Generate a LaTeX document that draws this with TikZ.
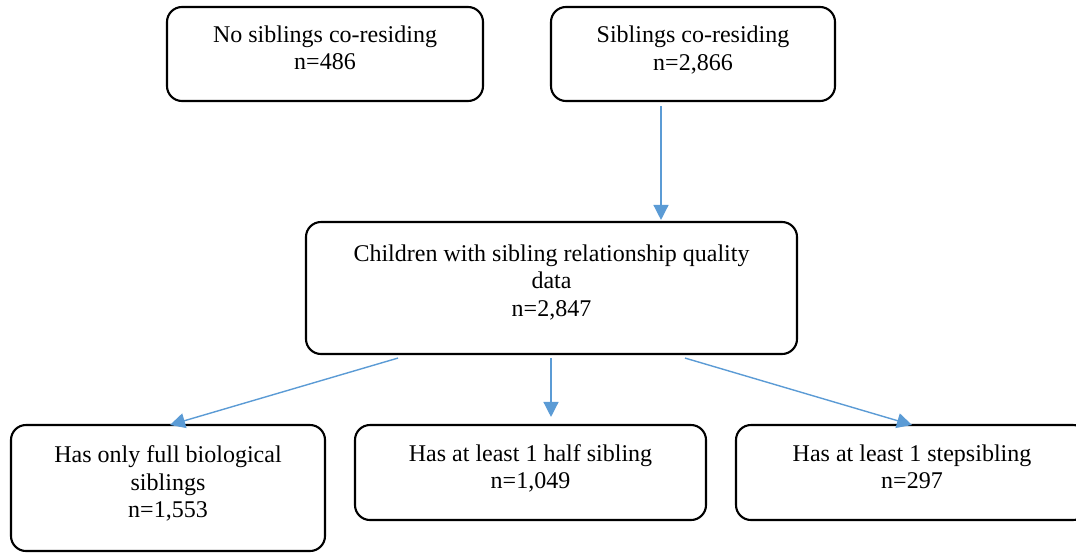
\documentclass[tikz,border=0pt]{standalone}
\usepackage{fontspec}
\setmainfont{Liberation Serif}
\usetikzlibrary{arrows.meta}
\definecolor{arrowblue}{HTML}{5B9BD5}
\tikzset{
  box/.style={draw=black, line width=2.1pt, rounded corners=15pt, inner sep=0pt},
  lbl/.style={anchor=base, align=center, inner sep=0pt, font=\fontsize{24}{27.6}\selectfont},
  arr/.style={draw=arrowblue, line width=1.4pt, -{Triangle[length=15pt,width=15pt]}}
}
\begin{document}
\begin{tikzpicture}[x=1pt,y=-1pt]
\useasboundingbox (0,0) rectangle (1076,552);
% boxes
\node[box, minimum width=316pt, minimum height=94pt] (b1) at (325,54) {};
\node[box, minimum width=284pt, minimum height=94pt] (b2) at (693,54) {};
\node[box, minimum width=491pt, minimum height=132pt] (b3) at (551.5,288) {};
\node[box, minimum width=314pt, minimum height=126pt] (b4) at (168,488) {};
\node[box, minimum width=351pt, minimum height=95pt] (b5) at (530.5,472.5) {};
\node[box, minimum width=352pt, minimum height=95pt] (b6) at (912,472.5) {};
% labels (anchor base = last line)
\node[lbl] (t1) at ([yshift=-64pt]b1.north) {No siblings co-residing\\n=486};
\node[lbl] (t2) at ([yshift=-64.6pt]b2.north) {Siblings co-residing\\n=2,866};
\node[lbl] (t3) at ([yshift=-95.5pt]b3.north) {Children with sibling relationship quality\\data\\n=2,847};
\node[lbl] (t4) at ([yshift=-94pt]b4.north) {Has only full biological\\siblings\\n=1,553};
\node[lbl] (t5) at ([yshift=-65pt]b5.north) {Has at least 1 half sibling\\n=1,049};
\node[lbl] (t6) at ([yshift=-65pt]b6.north) {Has at least 1 stepsibling\\n=297};
% connectors
\draw[arr] ([xshift=-32pt,yshift=-4pt]b2.south) -- ([xshift=-32pt,yshift=1pt]b2.south |- b3.north);
\draw[arr] ([xshift=-153.5pt,yshift=-3pt]b3.south) -- ([xshift=2pt,yshift=-1pt]b4.north);
\draw[arr] ([xshift=-0.5pt,yshift=-3pt]b3.south) -- ([xshift=-0.5pt,yshift=7pt]b3.south |- b5.north);
\draw[arr] ([xshift=133.5pt,yshift=-3pt]b3.south) -- ([yshift=-1pt]b6.north);
\end{tikzpicture}
\end{document}
